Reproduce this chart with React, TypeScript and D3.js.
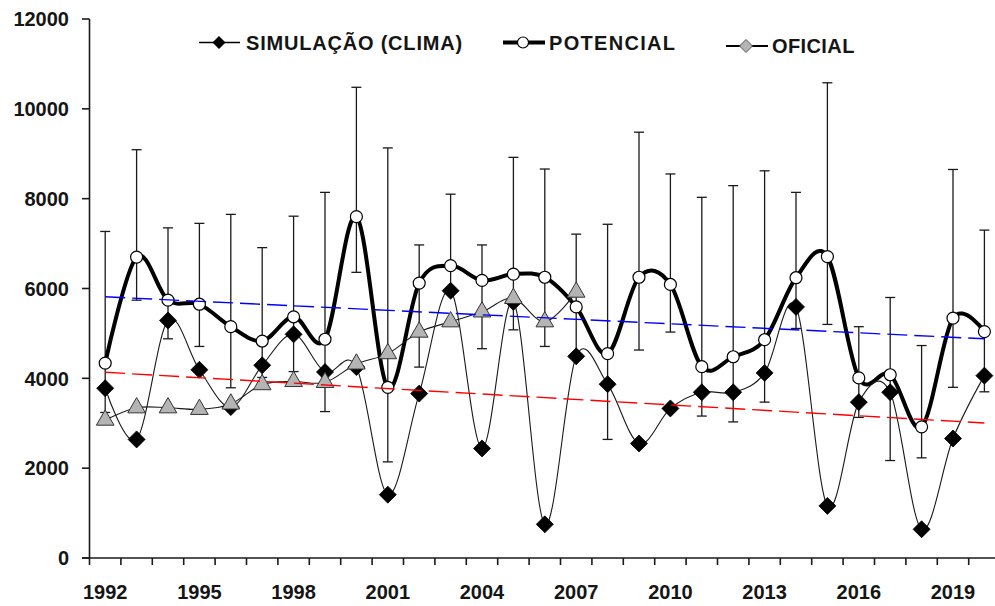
import React from 'react';
import * as d3 from 'd3';

const years = [1992, 1993, 1994, 1995, 1996, 1997, 1998, 1999, 2000, 2001, 2002, 2003, 2004, 2005, 2006, 2007, 2008, 2009, 2010, 2011, 2012, 2013, 2014, 2015, 2016, 2017, 2018, 2019, 2020];
const potencial = [4340, 6700, 5740, 5650, 5150, 4830, 5370, 4870, 7600, 3800, 6120, 6510, 6180, 6320, 6250, 5590, 4550, 6250, 6090, 4260, 4480, 4860, 6240, 6710, 4010, 4080, 2920, 5340, 5040];
const simulacao = [3780, 2640, 5290, 4190, 3360, 4290, 4980, 4140, 4250, 1410, 3660, 5950, 2440, 5700, 750, 4490, 3870, 2550, 3330, 3690, 3690, 4120, 5590, 1160, 3470, 3690, 640, 2660, 4060];
const oficialYears = [1992, 1993, 1994, 1995, 1996, 1997, 1998, 1999, 2000, 2001, 2002, 2003, 2004, 2005, 2006, 2007];
const oficial = [3070, 3345, 3345, 3310, 3430, 3860, 3930, 3910, 4320, 4550, 5030, 5260, 5480, 5780, 5260, 5920];
const errHigh = [7270, 9090, 7350, 7450, 7650, 6910, 7610, 8140, 10480, 9130, 6970, 8100, 6970, 8920, 8660, 7210, 7430, 9480, 8550, 8030, 8290, 8620, 8140, 10580, 5150, 5800, 4730, 8650, 7300];
const errLow = [3240, 5740, 4880, 4710, 3790, 4020, 4150, 3260, 6360, 2140, 4250, 5950, 4660, 5080, 4710, 4500, 2640, 4630, 5030, 3160, 3030, 3470, 5110, 5200, 3130, 2170, 2230, 3800, 3700];
const trendYears = [1992, 2020];
const trendPotencial = [5815, 4880];
const trendSimulacao = [4135, 3005];
const yTicks = [0, 2000, 4000, 6000, 8000, 10000, 12000];
const xLabelYears = [1992, 1995, 1998, 2001, 2004, 2007, 2010, 2013, 2016, 2019];

const W = 995;
const H = 606;
const LEFT = 89.5;
const STEP = 31.4;
const BOTTOM = 558;
const TOP = 19;
const FONT = "'Liberation Sans', Arial, sans-serif";
const TXT = '#151515';

const x = d3.scaleBand<number>().domain(years).range([LEFT, LEFT + STEP * years.length]).padding(0);
const cx = (yr: number) => (x(yr) as number) + x.bandwidth() / 2;
const y = d3.scaleLinear().domain([0, 12000]).range([BOTTOM, TOP]);

const smooth = d3.line<[number, number]>().x(d => cx(d[0])).y(d => y(d[1])).curve(d3.curveCatmullRom.alpha(0));
const straight = d3.line<[number, number]>().x(d => cx(d[0])).y(d => y(d[1]));

const diamond = (r: number) => `M0,${-r}L${r},0L0,${r}L${-r},0Z`;
const triangle = d3.symbol(d3.symbolTriangle, 135)() as string;

export default function App() {
  const potPts = years.map((yr, i) => [yr, potencial[i]] as [number, number]);
  const simPts = years.map((yr, i) => [yr, simulacao[i]] as [number, number]);
  const ofPts = oficialYears.map((yr, i) => [yr, oficial[i]] as [number, number]);
  const tPot = trendYears.map((yr, i) => [yr, trendPotencial[i]] as [number, number]);
  const tSim = trendYears.map((yr, i) => [yr, trendSimulacao[i]] as [number, number]);
  const boundaries = d3.range(years.length + 1).map(i => LEFT + i * x.step());

  return (
    <svg width={W} height={H} style={{ position: 'absolute', left: 0, top: 0, background: '#fff' }} fontFamily={FONT}>
      <rect width={W} height={H} fill="#fff" />
      {/* error bars */}
      <g stroke="#1a1a1a" strokeWidth={1.3}>
        {years.map((yr, i) => (
          <g key={yr}>
            <line x1={cx(yr)} x2={cx(yr)} y1={y(errLow[i])} y2={y(errHigh[i])} />
            <line x1={cx(yr) - 5} x2={cx(yr) + 5} y1={y(errHigh[i])} y2={y(errHigh[i])} />
            <line x1={cx(yr) - 5} x2={cx(yr) + 5} y1={y(errLow[i])} y2={y(errLow[i])} />
          </g>
        ))}
      </g>
      {/* potencial */}
      <path d={smooth(potPts) as string} fill="none" stroke="#000" strokeWidth={4} strokeLinejoin="round" />
      {/* simulacao */}
      <path d={smooth(simPts) as string} fill="none" stroke="#1a1a1a" strokeWidth={1.1} />
      {/* oficial */}
      <path d={smooth(ofPts) as string} fill="none" stroke="#1a1a1a" strokeWidth={1.1} />
      {potPts.map(d => (
        <circle key={'p' + d[0]} cx={cx(d[0])} cy={y(d[1])} r={6} fill="#fff" stroke="#000" strokeWidth={1.2} />
      ))}
      {simPts.map(d => (
        <path key={'s' + d[0]} d={diamond(8.5)} transform={`translate(${cx(d[0])},${y(d[1])})`} fill="#000" stroke="#000" strokeWidth={0.8} />
      ))}
      {ofPts.map(d => (
        <path key={'o' + d[0]} d={triangle} transform={`translate(${cx(d[0])},${y(d[1])})`} fill="#b4b4b4" stroke="#333" strokeWidth={1} />
      ))}
      {/* trend lines */}
      <path d={straight(tPot) as string} fill="none" stroke="#0000ff" strokeWidth={1.4} strokeDasharray="20 7" />
      <path d={straight(tSim) as string} fill="none" stroke="#ff0000" strokeWidth={1.4} strokeDasharray="20 7" />

      {/* axes */}
      <line x1={LEFT} x2={LEFT} y1={TOP} y2={BOTTOM} stroke="#1a1a1a" strokeWidth={1.6} />
      <line x1={82} x2={W} y1={BOTTOM} y2={BOTTOM} stroke="#1a1a1a" strokeWidth={1.6} />
      {yTicks.map(t => (
        <g key={t}>
          <line x1={82} x2={LEFT} y1={y(t)} y2={y(t)} stroke="#1a1a1a" strokeWidth={1.6} />
          <text x={69} y={y(t)} dy="0.36em" textAnchor="end" fontSize={20} fontWeight="bold" fill={TXT}>{t}</text>
        </g>
      ))}
      {boundaries.map((bx, i) => (
        <line key={i} x1={bx} x2={bx} y1={BOTTOM} y2={BOTTOM + 7} stroke="#1a1a1a" strokeWidth={1.6} />
      ))}
      {xLabelYears.map(yr => (
        <text key={yr} x={cx(yr)} y={599} textAnchor="middle" fontSize={20} fontWeight="bold" fill={TXT}>{yr}</text>
      ))}

      {/* legend */}
      <g>
        <line x1={199} x2={240} y1={42.5} y2={42.5} stroke="#000" strokeWidth={1.3} />
        <path d={diamond(6.5)} transform="translate(219,42.5)" fill="#000" />
        <text x={246} y={50} fontSize={20} fontWeight="bold" fill={TXT} letterSpacing={0.8}>SIMULAÇÃO (CLIMA)</text>

        <line x1={503} x2={545} y1={42.5} y2={42.5} stroke="#000" strokeWidth={4} />
        <circle cx={523} cy={42.5} r={5.5} fill="#fff" stroke="#000" strokeWidth={1.2} />
        <text x={549} y={50} fontSize={20} fontWeight="bold" fill={TXT} letterSpacing={1.3}>POTENCIAL</text>

        <line x1={726} x2={768} y1={46} y2={46} stroke="#000" strokeWidth={2} />
        <path d={diamond(6.5)} transform="translate(746,46)" fill="#b4b4b4" stroke="#555" strokeWidth={1} />
        <text x={772} y={53} fontSize={20} fontWeight="bold" fill={TXT} letterSpacing={0.4}>OFICIAL</text>
      </g>
    </svg>
  );
}
